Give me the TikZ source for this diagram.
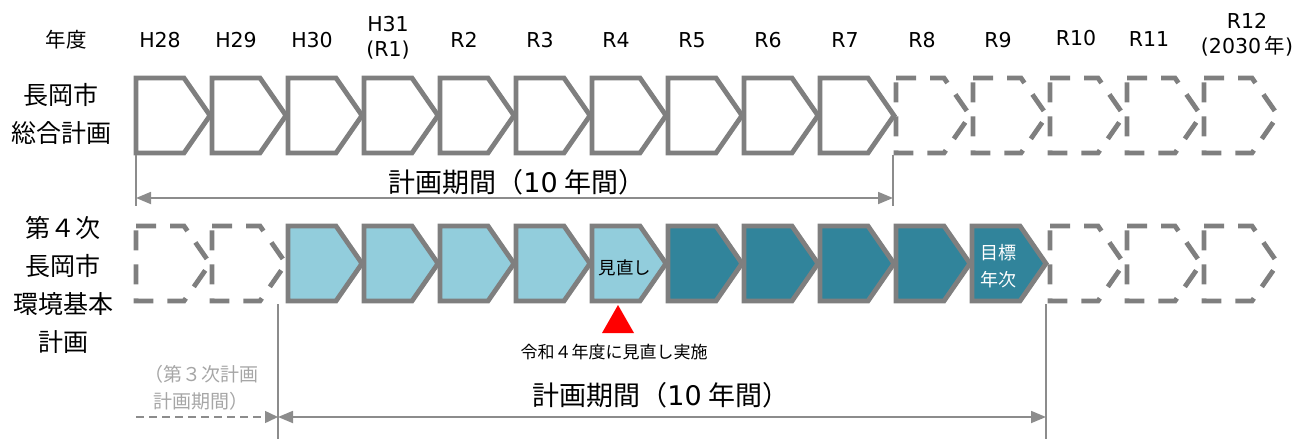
\documentclass[tikz,border=0pt]{standalone}
\usepackage{fontspec}
\setmainfont{DejaVu Sans}
\newfontfamily\cjk{Noto Sans CJK JP}
\usetikzlibrary{arrows.meta}
\definecolor{boxgray}{HTML}{7F7F7F}
\definecolor{linegray}{HTML}{8C8C8C}
\definecolor{lightblue}{HTML}{92CDDC}
\definecolor{darkteal}{HTML}{31849B}
\definecolor{softgray}{HTML}{A6A6A6}
\newcommand{\myL}[1]{{\rmfamily #1}}
\begin{document}
\begin{tikzpicture}[x=1pt,y=-1pt,
  solidbox/.style={draw=boxgray,line width=4.8pt,line join=miter},
  dashbox/.style={draw=boxgray,line width=4.8pt,dash pattern=on 20pt off 14pt},
  hdr/.style={font=\fontsize{20.5}{25}\selectfont,align=center,inner sep=0pt},
  rowlbl/.style={font=\cjk\fontsize{25}{38}\selectfont,align=center,inner sep=0pt},
  period/.style={font=\cjk\fontsize{27}{30}\selectfont,inner sep=0pt},
  dimline/.style={draw=linegray,line width=1.8pt},
  tick/.style={draw=linegray,line width=1.5pt}
]
\useasboundingbox (0,0) rectangle (1311,439);

% ---------- header ----------
\node[hdr,font=\cjk\fontsize{20.5}{25}\selectfont] (hYear) at (66,40) {年度};
\node[hdr] (hH28) at (160,40) {H28};
\node[hdr] (hH29) at (236,40) {H29};
\node[hdr] (hH30) at (312,40) {H30};
\node[hdr] (hH31) at (388,38) {H31\\(R1)};
\node[hdr] (hR2) at (464,40) {R2};
\node[hdr] (hR3) at (540,40) {R3};
\node[hdr] (hR4) at (616,40) {R4};
\node[hdr] (hR5) at (692,40) {R5};
\node[hdr] (hR6) at (768,40) {R6};
\node[hdr] (hR7) at (845,40) {R7};
\node[hdr] (hR8) at (922,40) {R8};
\node[hdr] (hR9) at (998,40) {R9};
\node[hdr] (hR10) at (1076,38) {R10};
\node[hdr] (hR11) at (1149,39) {R11};
\node[hdr] (hR12) at (1247,35) {R12\\(2030\,{\cjk 年})};

% ---------- row labels ----------
\node[rowlbl] (lab1) at (61,114) {長岡市\\総合計画};
\node[rowlbl] (lab2) at (63,285) {第４次\\長岡市\\環境基本\\計画};

% ---------- row 1 : 総合計画 ----------
\foreach \i in {10,...,14}{
  \pgfmathsetmacro\x{896+77*(\i-10)}
  \draw[dashbox] (\x,78) -- ++(48,0) -- ++(26,37.5) -- ++(-26,37.5) -- ++(-48,0) -- cycle;
}
\foreach \i in {0,...,9}{
  \pgfmathsetmacro\x{136+76*\i}
  \draw[solidbox,fill=white] (\x,78) -- ++(48,0) -- ++(26,37.5) -- ++(-26,37.5) -- ++(-48,0) -- cycle;
}

% ---------- row 2 : 環境基本計画 ----------
\foreach \i in {0,1}{
  \pgfmathsetmacro\x{136+76*\i}
  \draw[dashbox] (\x,226) -- ++(48,0) -- ++(26,37.5) -- ++(-26,37.5) -- ++(-48,0) -- cycle;
}
\foreach \i in {12,13,14}{
  \pgfmathsetmacro\x{896+77*(\i-10)}
  \draw[dashbox] (\x,226) -- ++(48,0) -- ++(26,37.5) -- ++(-26,37.5) -- ++(-48,0) -- cycle;
}
\foreach \i in {2,...,6}{
  \pgfmathsetmacro\x{136+76*\i}
  \draw[solidbox,fill=lightblue] (\x,226) -- ++(48,0) -- ++(26,37.5) -- ++(-26,37.5) -- ++(-48,0) -- cycle;
}
\foreach \i in {7,...,11}{
  \pgfmathsetmacro\x{136+76*\i}
  \draw[solidbox,fill=darkteal] (\x,226) -- ++(48,0) -- ++(26,37.5) -- ++(-26,37.5) -- ++(-48,0) -- cycle;
}
\node[font=\cjk\fontsize{17.5}{20}\selectfont,inner sep=0pt] (review) at (625,268) {見直し};
\node[font=\cjk\fontsize{18}{27}\selectfont,align=center,inner sep=0pt,text=white] (target) at (998,266) {目標\\年次};

% review marker
\coordinate (triTop) at (618,305);
\fill[red] (triTop) -- (634,333) -- (602,333) -- cycle;
\node[font=\cjk\fontsize{17}{20}\selectfont,inner sep=0pt] (reviewNote) at (614,352) {令和４年度に見直し実施};

% ---------- period 1 ----------
\coordinate (t1a) at (136,155);
\coordinate (t1b) at (136,206);
\coordinate (t2a) at (893,155);
\coordinate (t2b) at (893,206);
\draw[tick] (t1a) -- (t1b);
\draw[tick] (t2a) -- (t2b);
\coordinate (p1L) at (136,198);
\coordinate (p1R) at (893,198);
\draw[dimline,{Triangle[length=15pt,width=12pt]}-{Triangle[length=15pt,width=12pt]}] (p1L) -- (p1R);
\node[period] (per1) at (517,182) {計画期間（\myL{10}\hspace{0.25em}年間）};

% ---------- period 2 ----------
\coordinate (t3a) at (278,304);
\coordinate (t3b) at (278,439);
\coordinate (t4a) at (1046,304);
\coordinate (t4b) at (1046,439);
\draw[tick] (t3a) -- (t3b);
\draw[tick] (t4a) -- (t4b);
\coordinate (p2L) at (278,417);
\coordinate (p2R) at (1046,417);
\coordinate (p3L) at (136,417);
\draw[dimline,{Triangle[length=15pt,width=12pt]}-{Triangle[length=15pt,width=12pt]}] (p2L) -- (p2R);
\draw[dimline,line width=1.5pt,dash pattern=on 8pt off 5pt,-{Triangle[length=13pt,width=12pt]}] (p3L) -- (p2L);
\node[period] (per2) at (661,395) {計画期間（\myL{10}\hspace{0.25em}年間）};
\node[font=\cjk\fontsize{19}{27}\selectfont,align=center,inner sep=0pt,text=softgray] (prev) at (201,388) {（第３次計画\\計画期間）};
\end{tikzpicture}
\end{document}
